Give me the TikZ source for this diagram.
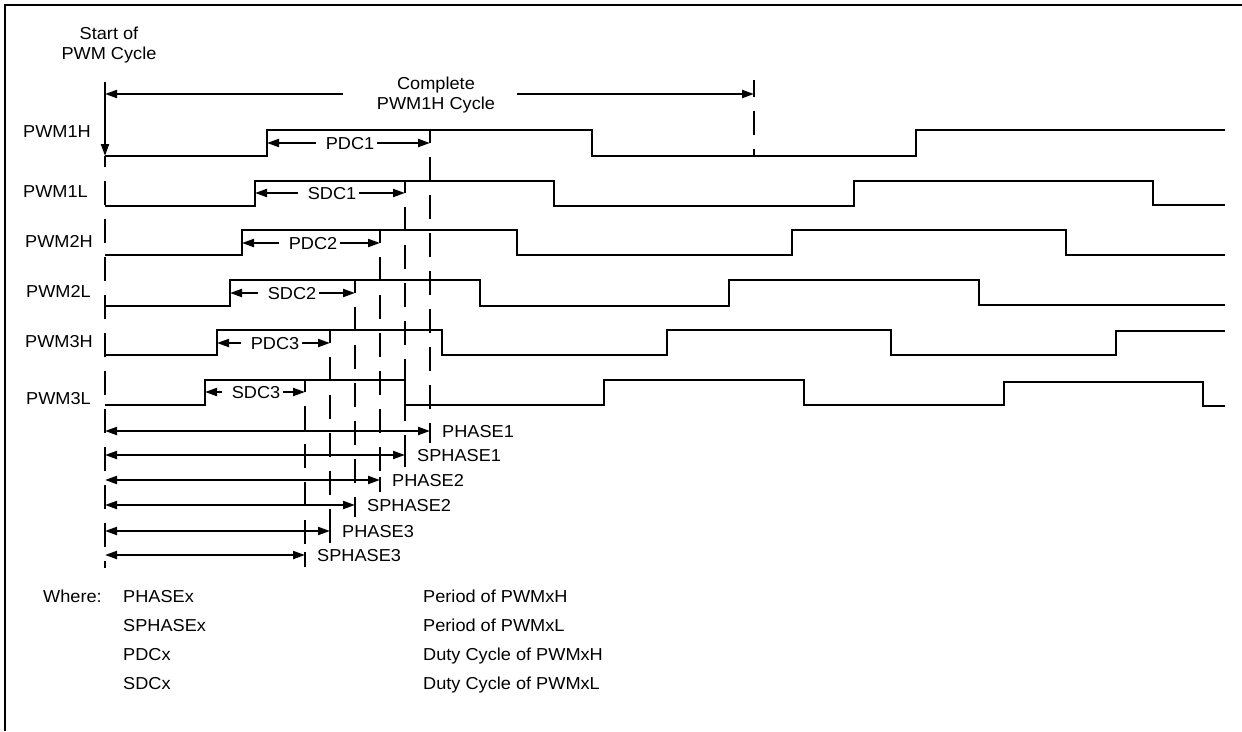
\documentclass[tikz,border=0pt]{standalone}
\usepackage{fontspec}
\setmainfont{Liberation Sans}[FakeStretch=1.05]
\usetikzlibrary{arrows.meta}
\begin{document}
\begin{tikzpicture}[x=1pt,y=-1pt,
  every node/.style={font=\fontsize{17.3}{20}\selectfont, inner sep=0pt},
  capt/.style={text height=12.4pt, text depth=0pt},
  wave/.style={line width=2pt},
  dline/.style={line width=2pt, dash pattern=on 24pt off 14pt},
  arr/.style={line width=2pt, -{Triangle[length=12pt,width=8pt]}},
  darr/.style={line width=2pt, {Triangle[length=12pt,width=8pt]}-{Triangle[length=12pt,width=8pt]}}]
\useasboundingbox (0,0) rectangle (1242,731);
% frame
\draw[line width=2pt] (5,731) -- (5,5) -- (1242,5);

% titles
\node[anchor=north, align=center] (start) at (109,27) {Start of\\PWM Cycle};
\node[anchor=north, align=center] (cycle) at (436,77) {Complete\\PWM1H Cycle};

% signal labels
\node[capt, anchor=west] (s1h) at (23,131) {PWM1H};
\node[capt, anchor=west] (s1l) at (23,191) {PWM1L};
\node[capt, anchor=west] (s2h) at (25,241) {PWM2H};
\node[capt, anchor=west] (s2l) at (26,291) {PWM2L};
\node[capt, anchor=west] (s3h) at (25,341) {PWM3H};
\node[capt, anchor=west] (s3l) at (26,398) {PWM3L};

% start of cycle marker
\coordinate (st0) at (105,82);
\coordinate (st1) at (105,156);
\coordinate (st2) at (105,568);
\draw[arr] (st0) -- (st1);
\draw[dline, dash phase=13pt] (st1) -- (st2);

% complete cycle arrow
\coordinate (cl0) at (343,94);
\coordinate (cl1) at (105,94);
\coordinate (cr0) at (517,94);
\coordinate (cr1) at (754,94);
\draw[arr] (cl0) -- (cl1);
\draw[arr] (cr0) -- (cr1);
\coordinate (ce) at (754,157);
\draw[line width=2pt, dash pattern=on 24pt off 14pt, dash phase=7pt] (754,80) -- (ce);

% waveforms
\draw[wave] (105,156) -- (267,156) -- (267,130) -- (592,130) -- (592,156) -- (916,156) -- (916,130) -- (1225,130);
\draw[wave] (105,206) -- (255,206) -- (255,181) -- (554,181) -- (554,206) -- (854,206) -- (854,181) -- (1153,181) -- (1153,205) -- (1225,205);
\draw[wave] (105,255) -- (242,255) -- (242,230) -- (517,230) -- (517,255) -- (792,255) -- (792,230) -- (1066,230) -- (1066,255) -- (1225,255);
\draw[wave] (105,306) -- (230,306) -- (230,280) -- (480,280) -- (480,306) -- (729,306) -- (729,280) -- (979,280) -- (979,305) -- (1225,305);
\draw[wave] (105,355) -- (217,355) -- (217,330) -- (442,330) -- (442,355) -- (667,355) -- (667,330) -- (891,330) -- (891,355) -- (1116,355) -- (1116,331) -- (1225,331);
\draw[wave] (105,405) -- (205,405) -- (205,380) -- (405,380) -- (405,405) -- (604,405) -- (604,380) -- (804,380) -- (804,405) -- (1004,405) -- (1004,382) -- (1203,382) -- (1203,406) -- (1225,406);

% duty cycle arrows and dashed end lines
\foreach \n/\t/\xa/\xb/\xt/\ay/\top/\by in {
  pa/PDC1/267/430/350/143/130/431,
  sa/SDC1/255/405/332/193/181/455,
  pb/PDC2/242/380/313/243/230/480,
  sb/SDC2/230/355/292/293/280/505,
  pc/PDC3/217/330/275/343/330/531,
  sc/SDC3/205/305/256/392/380/555}{
  \node[capt] (\n) at (\xt,\ay) {\t};
  \coordinate (\n rise) at (\xa,\ay);
  \coordinate (\n end) at (\xb,\ay);
  \draw[arr] ([xshift=-10pt]\n.west) -- (\n rise);
  \draw[arr] ([xshift=3pt]\n.east) -- (\n end);
  \draw[line width=2pt] (\xb,\top) -- (\n end);
  \draw[dline, dash phase=24pt] (\n end) -- (\xb,\by);
  \draw[line width=2pt] (\xb,\by-3) -- (\xb,\by+12);
}

% phase arrows
\foreach \n/\t/\xb/\y in {
  ph1/PHASE1/430/431,
  sph1/SPHASE1/405/455,
  ph2/PHASE2/380/480,
  sph2/SPHASE2/355/505,
  ph3/PHASE3/330/531,
  sph3/SPHASE3/305/555}{
  \coordinate (\n l) at (105,\y);
  \coordinate (\n r) at (\xb,\y);
  \draw[darr] (\n l) -- (\n r);
  \node[capt, anchor=west] (\n) at (\xb+12,\y) {\t};
}

% legend
\node[capt, anchor=west] (where) at (43,596) {Where:};
\node[capt, anchor=west] (k1) at (123,596) {PHASEx};
\node[capt, anchor=west] (k2) at (123,625) {SPHASEx};
\node[capt, anchor=west] (k3) at (123,654) {PDCx};
\node[capt, anchor=west] (k4) at (123,683) {SDCx};
\node[capt, anchor=west] (d1) at (423,596) {Period of PWMxH};
\node[capt, anchor=west] (d2) at (423,625) {Period of PWMxL};
\node[capt, anchor=west] (d3) at (423,654) {Duty Cycle of PWMxH};
\node[capt, anchor=west] (d4) at (423,683) {Duty Cycle of PWMxL};
\end{tikzpicture}
\end{document}
